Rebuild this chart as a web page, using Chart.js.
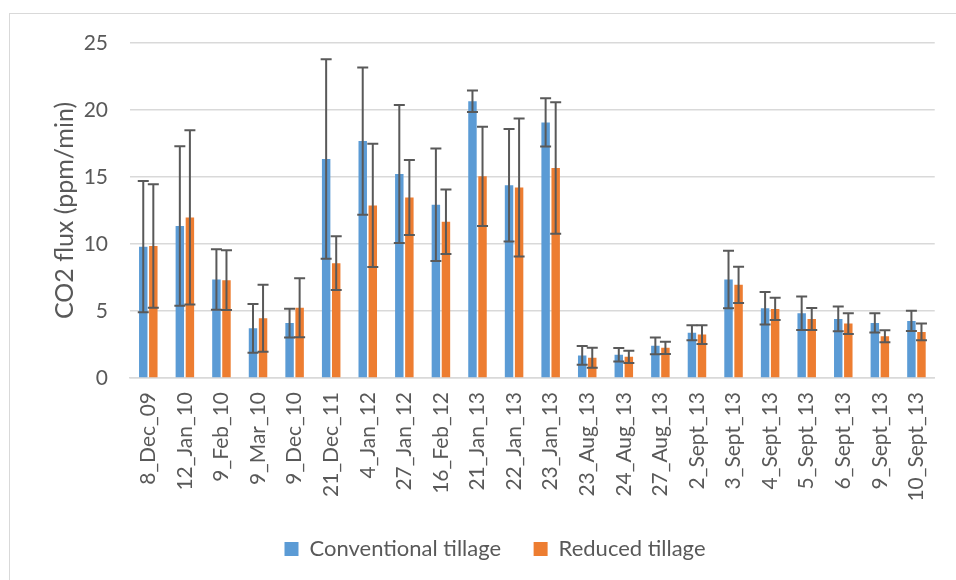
<!DOCTYPE html>
<html>
<head>
<meta charset="utf-8">
<script src="https://cdn.jsdelivr.net/npm/chart.js@4.4.1/dist/chart.umd.min.js"></script>
<style>
  html, body { margin: 0; padding: 0; background: #ffffff; }
  body { width: 956px; height: 580px; position: relative; overflow: hidden; }
  #frame { position: absolute; left: 9px; top: 13px; width: 960px; height: 600px; border: 1px solid #d9d9d9; box-sizing: border-box; }
  #wrap { position: absolute; left: 0; top: 0; width: 956px; height: 580px; }
</style>
</head>
<body>
<div id="frame"></div>
<div id="wrap"><canvas id="c" width="956" height="580"></canvas></div>
<script>
const categories = ['8_Dec_09','12_Jan_10','9_Feb_10','9_Mar_10','9_Dec_10','21_Dec_11','4_Jan_12','27_Jan_12','16_Feb_12','21_Jan_13','22_Jan_13','23_Jan_13','23_Aug_13','24_Aug_13','27_Aug_13','2_Sept_13','3_Sept_13','4_Sept_13','5_Sept_13','6_Sept_13','9_Sept_13','10_Sept_13'];
const conventional = [9.8, 11.34, 7.35, 3.71, 4.1, 16.34, 17.68, 15.23, 12.93, 20.65, 14.38, 19.07, 1.68, 1.73, 2.4, 3.37, 7.35, 5.2, 4.83, 4.41, 4.11, 4.26];
const conventionalErr = [4.9, 5.95, 2.25, 1.82, 1.07, 7.45, 5.5, 5.15, 4.2, 0.8, 4.2, 1.8, 0.7, 0.5, 0.62, 0.56, 2.15, 1.21, 1.25, 0.93, 0.72, 0.76];
const reduced = [9.85, 11.98, 7.3, 4.46, 5.25, 8.57, 12.88, 13.47, 11.66, 15.05, 14.21, 15.67, 1.51, 1.58, 2.25, 3.24, 6.95, 5.15, 4.41, 4.06, 3.12, 3.44];
const reducedErr = [4.6, 6.5, 2.23, 2.5, 2.2, 2.0, 4.6, 2.8, 2.4, 3.7, 5.15, 4.9, 0.75, 0.46, 0.46, 0.7, 1.35, 0.83, 0.82, 0.78, 0.45, 0.62];
const yTicks = [0, 5, 10, 15, 20, 25];

const FONT = 'Lato, "Open Sans", sans-serif';
const TEXT = '#595959';

const errorBars = {
  id: 'errorBars',
  afterDatasetsDraw(chart) {
    const ctx = chart.ctx;
    const y = chart.scales.y;
    ctx.save();
    ctx.strokeStyle = '#595959';
    ctx.lineWidth = 2;
    chart.data.datasets.forEach((ds, di) => {
      const meta = chart.getDatasetMeta(di);
      meta.data.forEach((bar, i) => {
        const v = ds.data[i], e = ds.errors[i];
        const x = bar.x;
        const yt = y.getPixelForValue(v + e);
        const yb = y.getPixelForValue(Math.max(0, v - e));
        const cap = 5.5;
        ctx.beginPath();
        ctx.moveTo(x, yt); ctx.lineTo(x, yb);
        ctx.moveTo(x - cap, yt); ctx.lineTo(x + cap, yt);
        ctx.moveTo(x - cap, yb); ctx.lineTo(x + cap, yb);
        ctx.stroke();
      });
    });
    ctx.restore();
  }
};

new Chart(document.getElementById('c'), {
  type: 'bar',
  data: {
    labels: categories,
    datasets: [
      { label: 'Conventional tillage', data: conventional, errors: conventionalErr, backgroundColor: '#5B9BD5', borderWidth: 0, barPercentage: 0.84, categoryPercentage: 0.55 },
      { label: 'Reduced tillage', data: reduced, errors: reducedErr, backgroundColor: '#ED7D31', borderWidth: 0, barPercentage: 0.84, categoryPercentage: 0.55 }
    ]
  },
  options: {
    responsive: false,
    animation: false,
    devicePixelRatio: 1,
    layout: { padding: { top: 43, right: 16, left: 50, bottom: 10 } },
    plugins: {
      tooltip: { enabled: false },
      legend: {
        position: 'bottom',
        labels: {
          color: TEXT,
          font: { family: FONT, size: 22 },
          boxWidth: 14, boxHeight: 14,
          padding: 10,
          generateLabels(chart) {
            const items = Chart.defaults.plugins.legend.labels.generateLabels(chart);
            items.forEach((it, i) => { if (i < items.length - 1) it.text = it.text + '    '; });
            return items;
          }
        }
      }
    },
    scales: {
      x: {
        grid: { display: false, drawTicks: false },
        border: { display: true, color: '#d9d9d9', width: 1.5 },
        ticks: {
          color: TEXT,
          font: { family: FONT, size: 21 },
          minRotation: 90, maxRotation: 90,
          padding: 14,
          autoSkip: false
        },
        afterFit(scale) { scale.height = 150; }
      },
      y: {
        min: 0, max: 25,
        afterBuildTicks(scale) { scale.ticks = yTicks.map(v => ({ value: v })); },
        grid: { color: '#d9d9d9', lineWidth: 1.5, drawTicks: false },
        border: { display: false },
        ticks: {
          color: TEXT,
          font: { family: FONT, size: 21 },
          padding: 22
        },
        title: {
          display: true,
          text: 'CO2 flux (ppm/min)',
          color: TEXT,
          font: { family: FONT, size: 25 },
          padding: { top: 0, bottom: 0 }
        },
        afterFit(scale) { scale.width = 80; }
      }
    }
  },
  plugins: [errorBars]
});
</script>
</body>
</html>
